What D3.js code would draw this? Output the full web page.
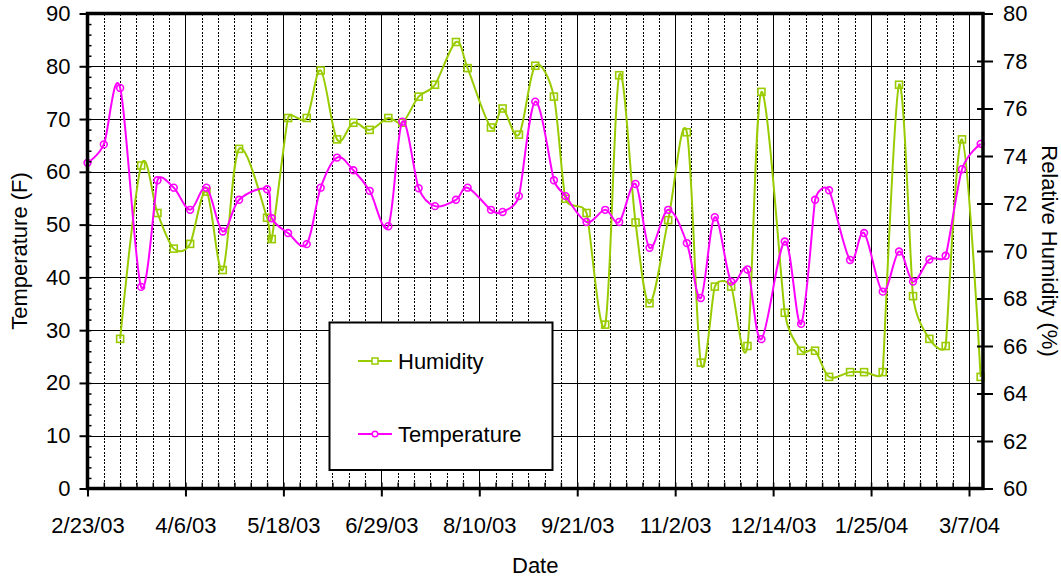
<!DOCTYPE html>
<html>
<head>
<meta charset="utf-8">
<script src="https://cdn.jsdelivr.net/npm/d3@7"></script>
<style>
  body { margin: 0; background: #fff; }
  svg text { font-family: "Liberation Sans", Arial, sans-serif; fill: #000; }
</style>
</head>
<body>
<svg width="1061" height="578"></svg>
<script>
// sample dates (one reading per visit)
var dates = ["2003-02-23","2003-03-02","2003-03-09","2003-03-18","2003-03-25","2003-04-01","2003-04-08","2003-04-15","2003-04-22","2003-04-29",
  "2003-05-11","2003-05-13","2003-05-20","2003-05-28","2003-06-03","2003-06-10","2003-06-17","2003-06-24","2003-07-02","2003-07-08",
  "2003-07-15","2003-07-22","2003-07-31","2003-08-05","2003-08-15","2003-08-20","2003-08-27","2003-09-03","2003-09-11","2003-09-16",
  "2003-09-25","2003-10-03","2003-10-09","2003-10-16","2003-10-22","2003-10-30","2003-11-07","2003-11-13","2003-11-19","2003-11-26",
  "2003-12-03","2003-12-09","2003-12-19","2003-12-26","2004-01-01","2004-01-07","2004-01-16","2004-01-22","2004-01-30","2004-02-06",
  "2004-02-12","2004-02-19","2004-02-26","2004-03-04","2004-03-12"];

var temperature = [61.7, 65.2, 75.9, 38.2, 58.4, 57.0, 52.8, 57.0, 48.7, 54.7,
  56.7, 51.2, 48.4, 46.3, 57.0, 62.7, 60.3, 56.4, 49.7, 69.5,
  56.9, 53.5, 54.7, 57.0, 52.8, 52.4, 55.4, 73.3, 58.4, 55.4,
  50.5, 52.8, 50.5, 57.7, 45.6, 52.8, 46.5, 36.1, 51.4, 39.2,
  41.5, 28.3, 46.8, 31.2, 54.7, 56.5, 43.3, 48.4, 37.3, 44.9,
  39.2, 43.4, 44.1, 60.5, 65.3];

var humidity = [null, null, 66.3, 73.6, 71.6, 70.1, 70.3, 72.5, 69.2, 74.3,
  71.4, 70.5, 75.6, 75.6, 77.6, 74.7, 75.4, 75.1, 75.6, 75.4,
  76.5, 77.0, 78.8, 77.7, 75.2, 76.0, 74.9, 77.8, 76.5, 72.2,
  71.6, 66.9, 77.4, 71.2, 67.8, 71.3, 75.0, 65.3, 68.5, 68.5,
  66.0, 76.7, 67.4, 65.8, 65.8, 64.7, 64.9, 64.9, 64.9, 77.0,
  68.1, 66.3, 66.0, 74.7, 64.7];

var majorTickDates = ["2003-02-23","2003-04-06","2003-05-18","2003-06-29","2003-08-10","2003-09-21","2003-11-02","2003-12-14","2004-01-25","2004-03-07"];
var majorTickLabels = ["2/23/03","4/6/03","5/18/03","6/29/03","8/10/03","9/21/03","11/2/03","12/14/03","1/25/04","3/7/04"];
var tempTicks = [0, 10, 20, 30, 40, 50, 60, 70, 80, 90];
var tempMinorTicks = d3.range(0, 91, 2);
var humTicks = [60, 62, 64, 66, 68, 70, 72, 74, 76, 78, 80];

var parse = d3.utcParse("%Y-%m-%d");

var svg = d3.select("svg"),
    plotLeft = 87.5, plotRight = 983, plotTop = 13.5, plotBottom = 488.5,
    width = plotRight - plotLeft,
    height = plotBottom - plotTop;

var green = "#99cc00", pink = "#ff00ff";

var xScale = d3.scaleUtc()
  .domain([parse("2003-02-23"), parse("2004-03-13")])
  .range([plotLeft, plotRight]);

var yTemp = d3.scaleLinear().domain([0, 90]).range([plotBottom, plotTop]);
var yHum = d3.scaleLinear().domain([60, 80]).range([plotBottom, plotTop]);

var data = dates.map(function(d, i) {
  return { date: parse(d), temp: temperature[i], hum: humidity[i] };
});

var majors = majorTickDates.map(parse);
var minors = d3.utcWeek.range(parse("2003-02-24"), parse("2004-03-13"));

// spreadsheet-style smoothing: bezier handles of 1/6 of the neighbour chord,
// but never longer than half of the shorter adjacent segment
function smoothCurve(context) {
  var pts = [];
  return {
    areaStart: function() {},
    areaEnd: function() {},
    lineStart: function() { pts = []; },
    point: function(x, y) { pts.push([+x, +y]); },
    lineEnd: function() {
      var n = pts.length;
      if (!n) return;
      function p(i) { return pts[Math.max(0, Math.min(n - 1, i))]; }
      function dist(a, b) { return Math.hypot(a[0] - b[0], a[1] - b[1]); }
      function f(i) {
        var a = p(i - 1), b = p(i), c = p(i + 1);
        var d02 = dist(a, c), d01 = dist(a, b), d12 = dist(b, c);
        if (d02 == 0) return 0;
        return Math.min(1 / 6, Math.min(d01, d12) / (2 * d02));
      }
      context.moveTo(pts[0][0], pts[0][1]);
      for (var i = 0; i < n - 1; i++) {
        var f1 = f(i), f2 = f(i + 1);
        var a = p(i - 1), b = p(i), c = p(i + 1), d = p(i + 2);
        context.bezierCurveTo(
          b[0] + f1 * (c[0] - a[0]), b[1] + f1 * (c[1] - a[1]),
          c[0] - f2 * (d[0] - b[0]), c[1] - f2 * (d[1] - b[1]),
          c[0], c[1]);
      }
    }
  };
}

// gridlines
svg.append("g")
  .attr("transform", "translate(" + plotLeft + ",0)")
  .call(d3.axisLeft(yTemp).tickValues(tempTicks).tickSize(-width).tickFormat(""))
  .call(function(g) { g.select(".domain").remove(); })
  .selectAll("line").attr("stroke", "#000").attr("stroke-width", 1)
  .attr("shape-rendering", "crispEdges");

svg.append("g")
  .attr("transform", "translate(0," + plotBottom + ")")
  .call(d3.axisBottom(xScale).tickValues(minors).tickSize(-height).tickFormat(""))
  .call(function(g) { g.select(".domain").remove(); })
  .selectAll("line").attr("stroke", "#000").attr("stroke-width", 1).attr("stroke-dasharray", "2,1.5")
  .attr("shape-rendering", "crispEdges");

svg.append("g")
  .attr("transform", "translate(0," + plotBottom + ")")
  .call(d3.axisBottom(xScale).tickValues(majors).tickSize(-height).tickFormat(""))
  .call(function(g) { g.select(".domain").remove(); })
  .selectAll("line").attr("stroke", "#000").attr("stroke-width", 1)
  .attr("shape-rendering", "crispEdges");

// smoothed lines
var humLine = d3.line()
  .x(function(d) { return xScale(d.date); })
  .y(function(d) { return yHum(d.hum); })
  .curve(smoothCurve);

var tempLine = d3.line()
  .x(function(d) { return xScale(d.date); })
  .y(function(d) { return yTemp(d.temp); })
  .curve(smoothCurve);

var humData = data.filter(function(d) { return d.hum != null; });

svg.append("path")
  .datum(humData)
  .attr("fill", "none")
  .attr("stroke", green)
  .attr("stroke-width", 2)
  .attr("d", humLine);

svg.selectAll(".hum")
  .data(humData)
  .enter().append("rect")
  .attr("class", "hum")
  .attr("x", function(d) { return xScale(d.date) - 3.5; })
  .attr("y", function(d) { return yHum(d.hum) - 3.5; })
  .attr("width", 7)
  .attr("height", 7)
  .attr("fill", "none")
  .attr("stroke", green)
  .attr("stroke-width", 1.6);

svg.append("path")
  .datum(data)
  .attr("fill", "none")
  .attr("stroke", pink)
  .attr("stroke-width", 2)
  .attr("d", tempLine);

svg.selectAll(".temp")
  .data(data)
  .enter().append("circle")
  .attr("class", "temp")
  .attr("cx", function(d) { return xScale(d.date); })
  .attr("cy", function(d) { return yTemp(d.temp); })
  .attr("r", 3.4)
  .attr("fill", "none")
  .attr("stroke", pink)
  .attr("stroke-width", 1.6);

// axes
var fs = "22px";

svg.append("g")
  .attr("transform", "translate(" + plotLeft + ",0)")
  .call(d3.axisLeft(yTemp).tickValues(tempMinorTicks).tickSize(-4).tickFormat(""))
  .call(function(g) { g.select(".domain").remove(); })
  .selectAll("line").attr("stroke-width", 1.5);

var yAxisL = svg.append("g")
  .attr("transform", "translate(" + plotLeft + ",0)")
  .call(d3.axisLeft(yTemp).tickValues(tempTicks).tickSize(8).tickPadding(9));
yAxisL.select(".domain").remove();
yAxisL.selectAll("line").attr("stroke-width", 2);
yAxisL.selectAll("text").style("font-size", fs);

var yAxisR = svg.append("g")
  .attr("transform", "translate(" + plotRight + ",0)")
  .call(d3.axisRight(yHum).tickValues(humTicks).tickSizeInner(10).tickSizeOuter(0).tickPadding(10));
yAxisR.select(".domain").remove();
yAxisR.selectAll("line").attr("x1", -6).attr("stroke-width", 2);
yAxisR.selectAll("text").style("font-size", fs);

svg.append("g")
  .attr("transform", "translate(0," + plotBottom + ")")
  .call(d3.axisBottom(xScale).tickValues(minors).tickSize(-6).tickFormat(""))
  .call(function(g) { g.select(".domain").remove(); })
  .selectAll("line").attr("stroke-width", 1.5);

var xAxis = svg.append("g")
  .attr("transform", "translate(0," + plotBottom + ")")
  .call(d3.axisBottom(xScale).tickValues(majors).tickSize(8).tickPadding(21)
    .tickFormat(function(d, i) { return majorTickLabels[i]; }));
xAxis.select(".domain").remove();
xAxis.selectAll("line").attr("stroke-width", 2);
xAxis.selectAll("text").style("font-size", fs);

// plot frame
svg.append("rect")
  .attr("x", plotLeft).attr("y", plotTop)
  .attr("width", width).attr("height", height)
  .attr("fill", "none")
  .attr("stroke", "#000")
  .attr("stroke-width", 3.5);

// legend
var legend = svg.append("g");
legend.append("rect")
  .attr("x", 329.5).attr("y", 322.5)
  .attr("width", 223).attr("height", 147.5)
  .attr("fill", "#fff")
  .attr("stroke", "#000")
  .attr("stroke-width", 2);

var legendItems = [
  { name: "Humidity", color: green, y: 361, shape: "square" },
  { name: "Temperature", color: pink, y: 434, shape: "circle" }
];

legendItems.forEach(function(item) {
  legend.append("line")
    .attr("x1", 358).attr("x2", 392)
    .attr("y1", item.y).attr("y2", item.y)
    .attr("stroke", item.color).attr("stroke-width", 2);
  if (item.shape == "square") {
    legend.append("rect")
      .attr("x", 372).attr("y", item.y - 3)
      .attr("width", 6).attr("height", 6)
      .attr("fill", "#fff").attr("stroke", item.color).attr("stroke-width", 1.5);
  } else {
    legend.append("circle")
      .attr("cx", 375).attr("cy", item.y).attr("r", 2.8)
      .attr("fill", "#fff").attr("stroke", item.color).attr("stroke-width", 1.5);
  }
  legend.append("text")
    .attr("x", 398).attr("y", item.y + 8)
    .style("font-size", fs)
    .text(item.name);
});

// axis titles
svg.append("text")
  .attr("transform", "translate(27," + (plotTop + height / 2) + ") rotate(-90)")
  .attr("text-anchor", "middle")
  .style("font-size", fs)
  .text("Temperature (F)");

svg.append("text")
  .attr("transform", "translate(1042," + (plotTop + height / 2) + ") rotate(90)")
  .attr("text-anchor", "middle")
  .style("font-size", fs)
  .text("Relative Humidity (%)");

svg.append("text")
  .attr("x", (plotLeft + plotRight) / 2)
  .attr("y", 573)
  .attr("text-anchor", "middle")
  .style("font-size", fs)
  .text("Date");
</script>
</body>
</html>
